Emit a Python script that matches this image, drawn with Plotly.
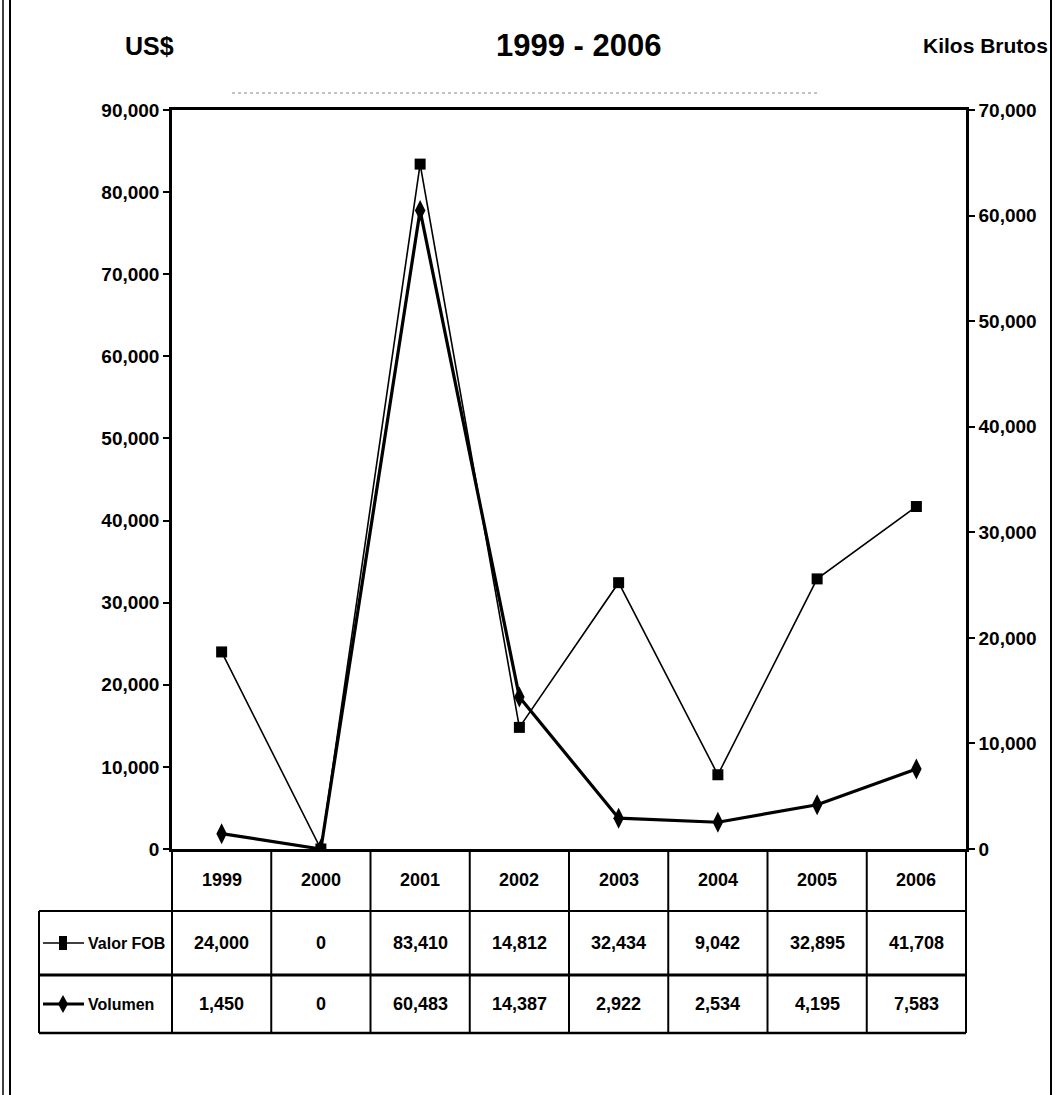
import plotly.graph_objects as go

# Exportaciones 1999-2006
years = ["1999", "2000", "2001", "2002", "2003", "2004", "2005", "2006"]
valor_fob = [24000, 0, 83410, 14812, 32434, 9042, 32895, 41708]   # US$
volumen = [1450, 0, 60483, 14387, 2922, 2534, 4195, 7583]          # Kilos brutos
left_ticks = [0, 10000, 20000, 30000, 40000, 50000, 60000, 70000, 80000, 90000]
right_ticks = [0, 10000, 20000, 30000, 40000, 50000, 60000, 70000]
series_names = ["Valor FOB", "Volumen"]

W, H = 1056, 1095
L, R, T, B = 172, 966, 110, 849   # plot area in pixels
FONT = "Liberation Sans, Arial, sans-serif"


def px(x):
    return (x - L) / (R - L)


def py(y):
    return (B - y) / (B - T)


def label(x, y, text, size, anchor="center"):
    return dict(x=px(x), y=py(y), xref="paper", yref="paper", text=text,
                xanchor=anchor, yanchor="middle", showarrow=False,
                font=dict(family=FONT, size=size, color="black", weight="bold"))


fig = go.Figure()
fig.add_trace(go.Scatter(
    x=years, y=volumen, name=series_names[1], yaxis="y2",
    mode="lines+markers", line=dict(color="black", width=3.2),
    marker=dict(symbol="diamond-tall", size=15, color="black"),
))
fig.add_trace(go.Scatter(
    x=years, y=valor_fob, name=series_names[0],
    mode="lines+markers", line=dict(color="black", width=1.6),
    marker=dict(symbol="square", size=11, color="black"),
))

shapes = []
annotations = []

# data table under the chart
row_cat = (B, 911)
row_fob = (911, 975)
row_vol = (975, 1033)
tab_left = 39
col_w = (R - L) / len(years)

# vertical lines of the table
for k in range(len(years) + 1):
    xx = L + k * col_w
    shapes.append(dict(type="line", xref="paper", yref="paper",
                       x0=px(xx), x1=px(xx), y0=py(B), y1=py(row_vol[1]),
                       line=dict(color="black", width=2)))
shapes.append(dict(type="line", xref="paper", yref="paper",
                   x0=px(tab_left), x1=px(tab_left), y0=py(row_fob[0]), y1=py(row_vol[1]),
                   line=dict(color="black", width=2)))
# horizontal lines of the table
for yy, w in [(row_fob[0], 2), (row_vol[0], 3), (row_vol[1], 2.5)]:
    shapes.append(dict(type="line", xref="paper", yref="paper",
                       x0=px(tab_left), x1=px(R), y0=py(yy), y1=py(yy),
                       line=dict(color="black", width=w)))

for i, yr in enumerate(years):
    cx = L + (i + 0.5) * col_w
    annotations.append(label(cx, (row_cat[0] + row_cat[1]) / 2, yr, 18))
    annotations.append(label(cx, (row_fob[0] + row_fob[1]) / 2, f"{valor_fob[i]:,}", 18))
    annotations.append(label(cx, (row_vol[0] + row_vol[1]) / 2, f"{volumen[i]:,}", 18))

# legend keys inside the table
for name, (y0, y1), lw in [(series_names[0], row_fob, 1.6), (series_names[1], row_vol, 3)]:
    ym = (y0 + y1) / 2
    shapes.append(dict(type="line", xref="paper", yref="paper",
                       x0=px(43), x1=px(84), y0=py(ym), y1=py(ym),
                       line=dict(color="black", width=lw)))
    annotations.append(label(86, ym, name, 16, anchor="left"))
# square key
ym = (row_fob[0] + row_fob[1]) / 2
shapes.append(dict(type="rect", xref="paper", yref="paper",
                   x0=px(59), x1=px(67), y0=py(ym - 7), y1=py(ym + 7),
                   fillcolor="black", line=dict(width=0)))
# diamond key
ym = (row_vol[0] + row_vol[1]) / 2
shapes.append(dict(type="path", xref="paper", yref="paper",
                   path=(f"M {px(63)},{py(ym - 9)} L {px(68)},{py(ym)} "
                         f"L {px(63)},{py(ym + 9)} L {px(58)},{py(ym)} Z"),
                   fillcolor="black", line=dict(width=0)))

# outer frame
for xx, w in [(3, 1.5), (10, 2), (1051, 2)]:
    shapes.append(dict(type="line", xref="paper", yref="paper",
                       x0=px(xx), x1=px(xx), y0=py(0), y1=py(H),
                       line=dict(color="black", width=w)))
# faint rule below the title
shapes.append(dict(type="line", xref="paper", yref="paper",
                   x0=px(232), x1=px(820), y0=py(93), y1=py(93),
                   line=dict(color="#888", width=1, dash="dot")))

annotations += [
    label(149, 46, "US$", 25),
    label(578, 45, "1999 - 2006", 31),
    label(986, 45, "Kilos Brutos", 21),
]

tick_font = dict(family=FONT, size=19, color="black", weight="bold")
fig.update_layout(
    width=W, height=H,
    margin=dict(l=L, r=W - R, t=T, b=H - B),
    paper_bgcolor="white", plot_bgcolor="white",
    showlegend=False,
    shapes=shapes, annotations=annotations,
    xaxis=dict(type="category", range=[-0.5, len(years) - 0.5], showticklabels=False,
               ticks="", showgrid=False, zeroline=False,
               showline=True, mirror=True, linecolor="black", linewidth=2.5),
    yaxis=dict(range=[0, 90000], tickvals=left_ticks, tickformat=",", tickfont=tick_font,
               showgrid=False, zeroline=False, showline=True, linecolor="black", linewidth=2.5,
               ticks="outside", ticklen=6, tickwidth=2, tickcolor="black"),
    yaxis2=dict(range=[0, 70000], tickvals=right_ticks, tickformat=",", tickfont=tick_font,
                overlaying="y", side="right", showgrid=False, zeroline=False,
                showline=True, linecolor="black", linewidth=2.5,
                ticks="outside", ticklen=6, tickwidth=2, tickcolor="black"),
)

fig.write_html("out.html")
